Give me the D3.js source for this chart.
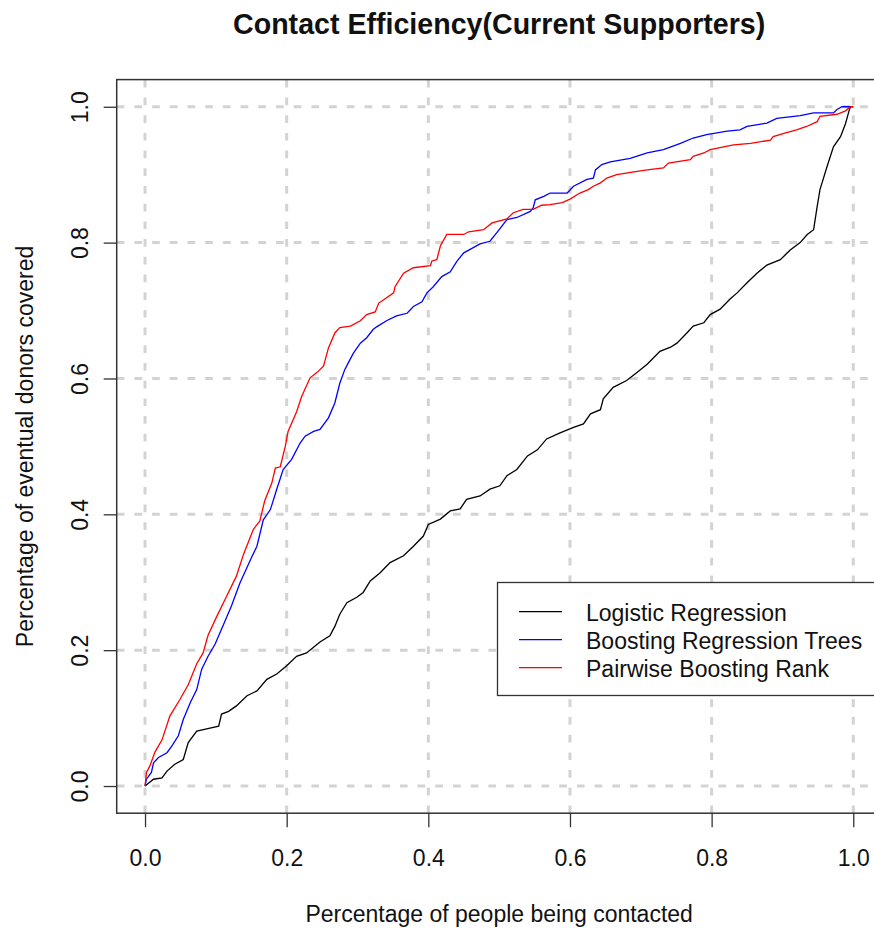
<!DOCTYPE html>
<html>
<head>
<meta charset="utf-8">
<script src="https://cdn.jsdelivr.net/npm/d3@7"></script>
<style>
  body { margin: 0; background: #fff; }
  svg { display: block; font-family: "Liberation Sans", Arial, sans-serif; }
</style>
</head>
<body>
<div id="chart"></div>
<script>
// cumulative share of donors reached as [x, y]
var logisticPts = [[0,0],[0.012,0.01],[0.024,0.012],[0.031,0.022],[0.042,0.032],[0.054,0.039],[0.061,0.064],[0.073,0.081],[0.087,0.084],[0.104,0.088],[0.108,0.106],[0.118,0.11],[0.129,0.118],[0.144,0.133],[0.158,0.14],[0.172,0.157],[0.186,0.165],[0.2,0.177],[0.214,0.191],[0.228,0.196],[0.247,0.212],[0.261,0.221],[0.268,0.235],[0.275,0.253],[0.285,0.27],[0.299,0.278],[0.308,0.285],[0.318,0.302],[0.332,0.314],[0.346,0.329],[0.365,0.339],[0.379,0.353],[0.393,0.368],[0.4,0.385],[0.417,0.393],[0.431,0.405],[0.445,0.408],[0.454,0.422],[0.473,0.427],[0.487,0.437],[0.501,0.442],[0.511,0.457],[0.525,0.466],[0.54,0.486],[0.554,0.495],[0.567,0.511],[0.586,0.52],[0.605,0.528],[0.619,0.533],[0.629,0.548],[0.643,0.554],[0.647,0.57],[0.661,0.587],[0.68,0.597],[0.695,0.609],[0.709,0.621],[0.727,0.64],[0.742,0.646],[0.751,0.652],[0.765,0.667],[0.774,0.677],[0.789,0.682],[0.798,0.694],[0.812,0.702],[0.826,0.717],[0.836,0.726],[0.85,0.741],[0.864,0.755],[0.878,0.767],[0.897,0.775],[0.911,0.789],[0.925,0.8],[0.935,0.812],[0.944,0.819],[0.949,0.853],[0.953,0.878],[0.963,0.912],[0.972,0.941],[0.982,0.956],[0.989,0.975],[0.994,0.994],[0.996,1.0]];

var boostingPts = [[0,0],[0.002,0.01],[0.009,0.02],[0.012,0.034],[0.019,0.042],[0.031,0.049],[0.038,0.059],[0.047,0.074],[0.054,0.098],[0.064,0.123],[0.073,0.142],[0.08,0.172],[0.089,0.191],[0.099,0.209],[0.111,0.238],[0.122,0.265],[0.134,0.299],[0.151,0.338],[0.158,0.353],[0.167,0.392],[0.177,0.407],[0.186,0.437],[0.195,0.466],[0.207,0.481],[0.219,0.505],[0.226,0.515],[0.238,0.522],[0.247,0.525],[0.259,0.542],[0.268,0.564],[0.275,0.593],[0.282,0.613],[0.287,0.623],[0.294,0.637],[0.304,0.652],[0.313,0.66],[0.322,0.672],[0.327,0.676],[0.341,0.685],[0.355,0.692],[0.37,0.696],[0.379,0.706],[0.391,0.713],[0.398,0.726],[0.407,0.735],[0.419,0.75],[0.431,0.757],[0.44,0.772],[0.45,0.785],[0.459,0.79],[0.473,0.798],[0.487,0.802],[0.497,0.815],[0.511,0.834],[0.525,0.837],[0.544,0.846],[0.548,0.851],[0.551,0.863],[0.563,0.868],[0.572,0.873],[0.596,0.873],[0.605,0.883],[0.624,0.893],[0.633,0.895],[0.636,0.907],[0.645,0.915],[0.657,0.919],[0.685,0.924],[0.709,0.932],[0.732,0.937],[0.756,0.946],[0.774,0.954],[0.793,0.959],[0.822,0.964],[0.84,0.966],[0.85,0.971],[0.878,0.976],[0.892,0.983],[0.925,0.987],[0.944,0.991],[0.972,0.991],[0.977,0.996],[0.984,1.0],[1.0,1.0]];

var pairwisePts = [[0,0],[0.002,0.02],[0.007,0.03],[0.014,0.05],[0.024,0.068],[0.035,0.103],[0.049,0.127],[0.061,0.149],[0.073,0.18],[0.082,0.196],[0.089,0.222],[0.101,0.249],[0.115,0.279],[0.129,0.309],[0.139,0.341],[0.153,0.378],[0.162,0.39],[0.169,0.42],[0.179,0.446],[0.184,0.468],[0.191,0.47],[0.198,0.5],[0.202,0.522],[0.214,0.551],[0.221,0.573],[0.233,0.601],[0.243,0.609],[0.252,0.618],[0.259,0.645],[0.268,0.667],[0.275,0.675],[0.29,0.677],[0.304,0.685],[0.313,0.694],[0.325,0.698],[0.33,0.711],[0.337,0.716],[0.351,0.726],[0.353,0.735],[0.365,0.755],[0.379,0.763],[0.403,0.766],[0.405,0.773],[0.412,0.775],[0.417,0.795],[0.426,0.812],[0.45,0.812],[0.457,0.816],[0.478,0.819],[0.49,0.829],[0.511,0.835],[0.52,0.844],[0.534,0.849],[0.548,0.849],[0.56,0.855],[0.572,0.856],[0.589,0.859],[0.6,0.864],[0.614,0.873],[0.626,0.878],[0.633,0.883],[0.643,0.888],[0.652,0.895],[0.666,0.9],[0.695,0.905],[0.709,0.907],[0.732,0.91],[0.739,0.917],[0.77,0.922],[0.774,0.927],[0.789,0.932],[0.798,0.937],[0.817,0.941],[0.831,0.944],[0.855,0.946],[0.883,0.951],[0.887,0.956],[0.902,0.961],[0.92,0.966],[0.934,0.971],[0.949,0.978],[0.953,0.986],[0.977,0.989],[0.989,0.994],[0.996,1.0],[1.0,1.0]];

var seriesNames = ["Logistic Regression", "Boosting Regression Trees", "Pairwise Boosting Rank"];
var seriesColors = ["#000000", "#0000ff", "#ff0000"];
var xTicks = [0, 0.2, 0.4, 0.6, 0.8, 1.0];
var yTicks = [0, 0.2, 0.4, 0.6, 0.8, 1.0];

var title = "Contact Efficiency(Current Supporters)";
var xTitle = "Percentage of people being contacted";
var yTitle = "Percentage of eventual donors covered";

var width = 874;
var height = 935;
var plotLeft = 116.7, plotRight = 881.6, plotTop = 79.6, plotBottom = 813.2;
var fontSize = 23;

var svg = d3.select("#chart").append("svg")
  .attr("width", width)
  .attr("height", height);

/* Scales (R style, 4% padding on each side) */
var xScale = d3.scaleLinear().domain([-0.04, 1.04]).range([plotLeft, plotRight]);
var yScale = d3.scaleLinear().domain([-0.04, 1.04]).range([plotBottom, plotTop]);

svg.append("clipPath").attr("id", "plotclip")
  .append("rect")
  .attr("x", plotLeft).attr("y", plotTop)
  .attr("width", plotRight - plotLeft).attr("height", plotBottom - plotTop);

/* Grid */
var grid = svg.append("g").attr("clip-path", "url(#plotclip)");
grid.selectAll(".vgrid")
  .data(xTicks).enter()
  .append("line")
  .attr("x1", d => xScale(d)).attr("x2", d => xScale(d))
  .attr("y1", plotBottom).attr("y2", plotTop)
  .style("stroke", "#d3d3d3")
  .style("stroke-width", 3)
  .style("stroke-dasharray", "7.7,10");
grid.selectAll(".hgrid")
  .data(yTicks).enter()
  .append("line")
  .attr("x1", plotLeft).attr("x2", plotRight)
  .attr("y1", d => yScale(d)).attr("y2", d => yScale(d))
  .style("stroke", "#d3d3d3")
  .style("stroke-width", 3)
  .style("stroke-dasharray", "7.7,10");

/* Lines */
var line = d3.line()
  .x(d => xScale(d[0]))
  .y(d => yScale(d[1]));

var allSeries = [logisticPts, boostingPts, pairwisePts];
svg.append("g").attr("clip-path", "url(#plotclip)")
  .selectAll("path")
  .data(allSeries).enter()
  .append("path")
  .attr("d", d => line(d))
  .style("fill", "none")
  .style("stroke", (d, i) => seriesColors[i])
  .style("stroke-width", 1.3);

/* Box */
svg.append("rect")
  .attr("x", plotLeft).attr("y", plotTop)
  .attr("width", plotRight - plotLeft).attr("height", plotBottom - plotTop)
  .style("fill", "none")
  .style("stroke", "#333")
  .style("stroke-width", 1.5);

/* Axes */
var fmt = d3.format(".1f");
var xAxis = d3.axisBottom(xScale).tickValues(xTicks).tickFormat(fmt).tickSize(14).tickSizeOuter(0).tickPadding(0);
var yAxis = d3.axisLeft(yScale).tickValues(yTicks).tickFormat(fmt).tickSize(13).tickSizeOuter(0).tickPadding(0);

var gx = svg.append("g")
  .attr("transform", `translate(0, ${plotBottom})`)
  .call(xAxis);
gx.select(".domain").remove();
gx.selectAll("line").style("stroke", "#333").style("stroke-width", 1.3);
gx.selectAll("text")
  .attr("y", 53).attr("dy", null)
  .style("font-size", fontSize + "px")
  .style("font-family", "Liberation Sans, Arial, sans-serif")
  .style("fill", "#111");

var gy = svg.append("g")
  .attr("transform", `translate(${plotLeft}, 0)`)
  .call(yAxis);
gy.select(".domain").remove();
gy.selectAll("line").style("stroke", "#333").style("stroke-width", 1.3);
gy.selectAll("text")
  .attr("x", 0).attr("y", -29).attr("dy", null)
  .attr("transform", "rotate(-90)")
  .attr("text-anchor", "middle")
  .style("font-size", fontSize + "px")
  .style("font-family", "Liberation Sans, Arial, sans-serif")
  .style("fill", "#111");

/* Titles */
var midX = (plotLeft + plotRight) / 2;
var midY = (plotTop + plotBottom) / 2;

svg.append("text")
  .attr("x", midX).attr("y", 34)
  .attr("text-anchor", "middle")
  .style("font-size", "28.6px")
  .style("font-weight", "bold")
  .style("fill", "#111")
  .text(title);

svg.append("text")
  .attr("x", midX).attr("y", 922)
  .attr("text-anchor", "middle")
  .style("font-size", fontSize + "px")
  .style("fill", "#111")
  .text(xTitle);

svg.append("text")
  .attr("transform", `translate(33, ${midY}) rotate(-90)`)
  .attr("text-anchor", "middle")
  .style("font-size", fontSize + "px")
  .style("fill", "#111")
  .text(yTitle);

/* Legend */
var legend = svg.append("g").attr("class", "legend");
legend.append("rect")
  .attr("x", 497.5).attr("y", 582.5)
  .attr("width", 390).attr("height", 113)
  .style("fill", "#fff")
  .style("stroke", "#333")
  .style("stroke-width", 1.3);

var items = legend.selectAll(".item")
  .data(seriesNames).enter()
  .append("g")
  .attr("transform", (d, i) => `translate(0, ${611.7 + i * 28})`);
items.append("line")
  .attr("x1", 519).attr("x2", 562)
  .attr("y1", 0).attr("y2", 0)
  .style("stroke", (d, i) => seriesColors[i])
  .style("stroke-width", 1.3);
items.append("text")
  .attr("x", 586).attr("y", 9.5)
  .style("font-size", fontSize + "px")
  .style("fill", "#111")
  .text(d => d);
</script>
</body>
</html>
